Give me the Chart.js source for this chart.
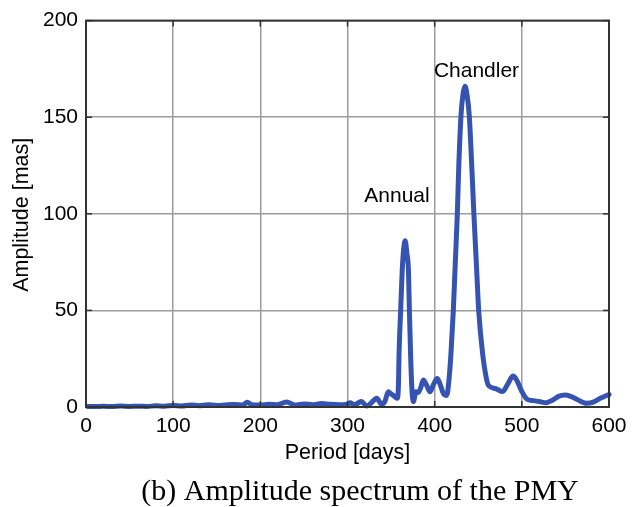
<!DOCTYPE html>
<html>
<head>
<meta charset="utf-8">
<script src="https://cdn.jsdelivr.net/npm/chart.js@4.4.1/dist/chart.umd.min.js"></script>
<style>
html,body{margin:0;padding:0;background:#fff;}
#wrap{width:636px;height:507px;position:relative;}
</style>
</head>
<body>
<div id="wrap"><canvas id="c" width="636" height="507"></canvas></div>
<script>
// Period [days]
const periods = [2,10,20,30,40,50,60,70,80,90,100,110,120,130,140,150,160,170,180,185,190,200,210,220,230,240,250,260,270,280,290,
  300,303,308,312,316,322,328,333.5,339,343,346.8,350,352.6,354.5,357,358.5,359.1,361,362.7,364.5,366.2,368,370,371,372.4,373.8,375.5,
  378.6,381,384,387,391,394.6,399,403,406,410,413.8,416.4,418.7,421.4,423.3,426,427.5,430.2,432.5,434.8,437,439.7,442.8,445,448.2,450.5,455,
  459.7,462,470,478,484,490,494,500,506,513,520,528,535,542,549.5,556,563,574,582,590,600];
// Amplitude [mas]
const amplitudes = [0.3,0.2,0.4,0.2,0.5,0.3,0.4,0.3,0.6,0.4,0.8,0.5,1.0,0.7,1.2,0.8,1.1,1.3,1.0,2.5,1.2,1.0,1.4,1.2,2.6,1.0,1.6,1.2,1.8,1.4,1.2,
  1.5,2.2,1.2,2.0,2.8,0.5,2.5,4.5,1.5,3,7.9,6.8,6,5.3,4.5,12,27,50,70,82,86,80,70,50,27,10,2.7,
  7.9,7.5,10,14,11,7.9,12,14.8,12,7,6,14,27.7,50,70.8,100,122.4,150.8,162,166,162,150.8,122.4,100,70.8,50,27.7,
  14,11,9.5,8,12,16,14,8,4,3.3,2.8,2.2,3.5,5.5,6.2,5.5,4,1.9,2.5,4.5,6.5];
const xTicks = [0,100,200,300,400,500,600];
const yTicks = [0,50,100,150,200];
const labels = [{text:'Annual', x:356.8, y:109}, {text:'Chandler', x:448, y:174}];
const xTitle = 'Period [days]';
const yTitle = 'Amplitude [mas]';
const caption = '(b) Amplitude spectrum of the PMY';

const pts = periods.map((p,i)=>({x:p, y:amplitudes[i]}));
const SANS = '"Liberation Sans", Arial, Helvetica, sans-serif';

const framePlugin = {
  id:'frame',
  afterDatasetsDraw(chart){
    const {ctx, chartArea:a, scales:{x,y}} = chart;
    ctx.save();
    ctx.strokeStyle='#333'; ctx.lineWidth=1.5;
    xTicks.forEach(v=>{const px=x.getPixelForValue(v);
      ctx.beginPath();ctx.moveTo(px,a.bottom);ctx.lineTo(px,a.bottom-6);ctx.stroke();
      ctx.beginPath();ctx.moveTo(px,a.top);ctx.lineTo(px,a.top+6);ctx.stroke();});
    yTicks.forEach(v=>{const py=y.getPixelForValue(v);
      ctx.beginPath();ctx.moveTo(a.left,py);ctx.lineTo(a.left+6,py);ctx.stroke();
      ctx.beginPath();ctx.moveTo(a.right,py);ctx.lineTo(a.right-6,py);ctx.stroke();});
    ctx.strokeStyle='#333'; ctx.lineWidth=2;
    ctx.strokeRect(a.left,a.top,a.right-a.left,a.bottom-a.top);
    ctx.fillStyle='#000'; ctx.font='21px '+SANS;
    ctx.textAlign='center'; ctx.textBaseline='middle';
    labels.forEach(l=>ctx.fillText(l.text, x.getPixelForValue(l.x), y.getPixelForValue(l.y)));
    ctx.font='21.5px '+SANS;
    ctx.fillText(xTitle, (a.left+a.right)/2, 453);
    ctx.save(); ctx.translate(22,(a.top+a.bottom)/2+1); ctx.rotate(-Math.PI/2);
    ctx.fillText(yTitle, 0, 0); ctx.restore();
    ctx.font='30px "Liberation Serif", "Times New Roman", serif';
    ctx.fillText(caption, 360, 492);
    ctx.restore();
  }
};

new Chart(document.getElementById('c'), {
  type:'line',
  data:{datasets:[{data:pts, borderColor:'#3553b1', borderWidth:5, pointRadius:0,
    cubicInterpolationMode:'monotone', fill:false, clip:false, borderJoinStyle:'round', borderCapStyle:'round'}]},
  options:{
    responsive:false, animation:false,
    layout:{padding:{left:0,right:27,top:20,bottom:0}},
    plugins:{legend:{display:false}, tooltip:{enabled:false}},
    scales:{
      x:{type:'linear', min:0, max:600,
        afterBuildTicks(s){s.ticks = xTicks.map(v=>({value:v}));},
        afterFit(s){s.height = 100;},
        grid:{color:'#9c9c9c', lineWidth:1.5, drawTicks:false},
        border:{display:false},
        ticks:{color:'#000', font:{family:SANS, size:21}, padding:7, maxRotation:0}
      },
      y:{type:'linear', min:0, max:200,
        afterBuildTicks(s){s.ticks = yTicks.map(v=>({value:v}));},
        afterFit(s){s.width = 86;},
        grid:{color:'#9c9c9c', lineWidth:1.5, drawTicks:false},
        border:{display:false},
        ticks:{color:'#000', font:{family:SANS, size:21}, padding:8}
      }
    }
  },
  plugins:[framePlugin]
});
</script>
</body>
</html>
